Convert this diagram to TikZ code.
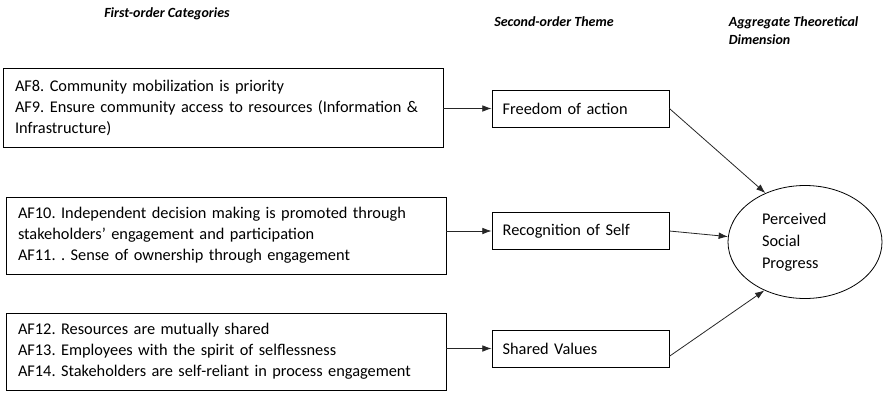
\documentclass[tikz,border=0pt]{standalone}
\usepackage{fontspec}
\setmainfont{Carlito}
\usetikzlibrary{shapes,arrows,arrows.meta,positioning,calc}
\frenchspacing

\begin{document}
\begin{tikzpicture}[x=0.75pt,y=-0.75pt,line width=0.6pt,
  head/.style={font=\fontsize{10.5}{13.5}\selectfont\bfseries\itshape},
  catbox/.style={draw,rectangle,align=left,text width=312pt,inner xsep=9pt,font=\fontsize{12.25}{15.75}\selectfont},
  thbox/.style={draw,rectangle,align=left,text width=116.75pt,inner xsep=8pt,minimum height=27.75pt,font=\fontsize{12.25}{15.75}\selectfont},
  link/.style={-{Latex[length=7pt,width=5pt]},draw=black!85}]
\useasboundingbox (0,0) rectangle (888,393);
% headings
\node[head] (h1) at (167,14) {First-order Categories};
\node[head] (h2) at (554,22) {Second-order Theme};
\node[head,align=left,anchor=west] (h3) at (724,31) {Aggregate Theoretical\\Dimension};
% first-order categories
\node[catbox,minimum height=59.25pt] (cat1) at (223,107.5) {AF8. Community mobilization is priority\\AF9. Ensure community access to resources (Information \&\\Infrastructure)};
\node[catbox,minimum height=57.75pt] (cat2) at (226,235.5) {AF10. Independent decision making is promoted through\\stakeholders’ engagement and participation\\AF11. . Sense of ownership through engagement};
\node[catbox,minimum height=57.75pt] (cat3) at (226,351.5) {AF12. Resources are mutually shared\\AF13. Employees with the spirit of selflessness\\AF14. Stakeholders are self-reliant in process engagement};
% themes
\node[thbox] (th1) at (580.5,108.5) {Freedom of action};
\node[thbox] (th2) at (580.5,231) {Recognition of Self};
\node[thbox] (th3) at (580.5,348.5) {Shared Values};
% dimension
\node[draw,ellipse,minimum width=115.5pt,minimum height=84.75pt,text width=64.5pt,align=left,font=\fontsize{12.25}{16.5}\selectfont] (psp) at (805,242) {Perceived\\Social\\Progress};
\draw[link] (cat1.east |- th1.west) -- (th1.west);
\draw[link] (cat2.east |- th2.west) -- (th2.west);
\draw[link] (cat3.east |- th3.west) -- (th3.west);
\draw[link] (th1.east) -- (psp.129);
\draw[link] (th2.east) -- (psp.176);
\draw[link] (th3.-5) -- (psp.230);
\end{tikzpicture}
\end{document}
